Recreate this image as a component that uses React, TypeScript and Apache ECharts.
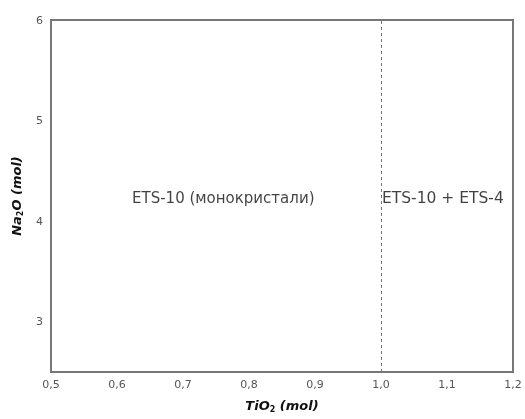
import React, { useEffect, useRef } from "react";
import * as echarts from "echarts";

const xTicks = [0.5, 0.6, 0.7, 0.8, 0.9, 1.0, 1.1, 1.2];
const yTicks = [3, 4, 5, 6];
const boundaryX = [1.0];
const regionLabels = ["ETS-10 (монокристали)", "ETS-10 + ETS-4"];
const regionPoints: [number, number][] = [
  [0.761, 4.23],
  [1.0, 4.23],
];

export default function App() {
  const ref = useRef<HTMLDivElement>(null);
  useEffect(() => {
    if (!ref.current) return;
    const chart = echarts.init(ref.current, null, { renderer: "svg" });
    const font = "DejaVu Sans";
    const titleRich = {
      a: { fontFamily: font, fontSize: 13, fontWeight: "bold", fontStyle: "italic", color: "#111" },
      s: { fontFamily: font, fontSize: 8, fontWeight: "bold", color: "#111", verticalAlign: "bottom", padding: [7, 0, 0, 0] },
    };
    chart.setOption({
      animation: false,
      grid: {
        left: 51,
        right: 12,
        top: 20,
        bottom: 47,
        show: true,
        borderColor: "#777",
        borderWidth: 2,
        backgroundColor: "#fff",
      },
      xAxis: {
        type: "value",
        min: 0.5,
        max: 1.2,
        interval: 0.1,
        splitLine: { show: false },
        axisLine: { show: false },
        axisTick: { show: false },
        axisLabel: {
          color: "#555",
          fontFamily: font,
          fontSize: 11,
          margin: 7,
          formatter: (v: number) => {
            const r = Math.round(v * 10) / 10;
            return xTicks.some((t) => Math.abs(t - r) < 1e-6) ? r.toFixed(1).replace(".", ",") : "";
          },
        },
        name: "{a|TiO}{s|2}{a| (mol)}",
        nameLocation: "middle",
        nameGap: 26,
        nameTextStyle: { rich: titleRich },
      },
      yAxis: {
        type: "value",
        min: 2.5,
        max: 6,
        interval: 0.5,
        splitLine: { show: false },
        axisLine: { show: false },
        axisTick: { show: false },
        axisLabel: {
          color: "#555",
          fontFamily: font,
          fontSize: 11,
          margin: 8,
          formatter: (v: number) => (yTicks.some((t) => Math.abs(t - v) < 1e-6) ? String(v) : ""),
        },
        name: "{a|Na}{s|2}{a|O (mol)}",
        nameLocation: "middle",
        nameGap: 27,
        nameTextStyle: { rich: titleRich },
      },
      series: [
        {
          type: "scatter",
          symbolSize: 0,
          silent: true,
          data: [regionPoints[0]],
          label: {
            show: true,
            position: "inside",
            formatter: regionLabels[0],
            fontFamily: font,
            fontSize: 15,
            color: "#111",
          },
          markLine: {
            silent: true,
            symbol: "none",
            label: { show: false },
            lineStyle: { color: "#777", type: [3, 3], width: 1 },
            data: boundaryX.map((x) => ({ xAxis: x })),
          },
        },
        {
          type: "scatter",
          symbolSize: 0,
          silent: true,
          data: [regionPoints[1]],
          label: {
            show: true,
            position: "right",
            distance: 1,
            formatter: regionLabels[1],
            fontFamily: font,
            fontSize: 15.5,
            color: "#111",
          },
        },
      ],
    });
    return () => chart.dispose();
  }, []);
  return (
    <div
      ref={ref}
      style={{ position: "fixed", left: 0, top: 0, width: 525, height: 419 }}
    />
  );
}
